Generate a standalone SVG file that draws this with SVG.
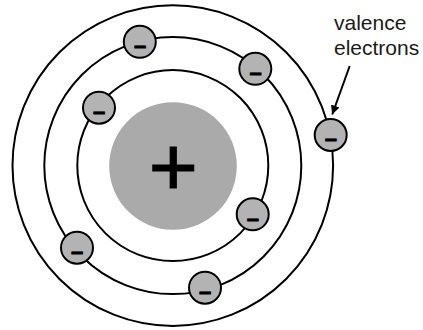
<svg xmlns="http://www.w3.org/2000/svg" width="423" height="330" viewBox="0 0 423 330">
  <style>
    .orbit { fill: none; stroke: #000; stroke-width: 2; }
    .electron circle { fill: #b3b3b3; stroke: #000; stroke-width: 2; }
    .electron text { font-family: "Liberation Sans", Arial, sans-serif; font-weight: bold; font-size: 22px; text-anchor: middle; fill: #000; stroke: #000; stroke-width: 0.8; }
    .label { font-family: "Liberation Sans", Arial, sans-serif; font-size: 21px; fill: #1a1a1a; }
  </style>
  <defs>
    <marker id="arrowhead" markerWidth="10" markerHeight="10" refX="9" refY="5" orient="auto" markerUnits="userSpaceOnUse">
      <path d="M0,0.5 L9,5 L0,9.5 Z" fill="#000"/>
    </marker>
  </defs>
  <rect width="423" height="330" fill="#fff"/>

  <!-- electron shells -->
  <g id="shells">
    <circle class="orbit" cx="172.8" cy="165.6" r="160.3"/>
    <circle class="orbit" cx="172.8" cy="165.6" r="128.5"/>
    <circle class="orbit" cx="172.8" cy="165.6" r="95.5"/>
  </g>

  <!-- nucleus -->
  <g id="nucleus">
    <circle cx="173" cy="166" r="63.8" fill="#aaaaaa"/>
    <text x="173.3" y="194.5" font-family="Liberation Sans, Arial, sans-serif" font-size="84" text-anchor="middle" fill="#000" stroke="#000" stroke-width="1.2">+</text>
  </g>

  <!-- electrons -->
  <g id="electron-1" class="electron"><circle cx="139.8" cy="41.8" r="16"/><text x="140" y="53">–</text></g>
  <g id="electron-2" class="electron"><circle cx="255.3" cy="68.8" r="16"/><text x="255.5" y="80">–</text></g>
  <g id="electron-3" class="electron"><circle cx="99" cy="107.7" r="16"/><text x="99.2" y="119">–</text></g>
  <g id="electron-4" class="electron"><circle cx="330.7" cy="135" r="16"/><text x="330.9" y="146">–</text></g>
  <g id="electron-5" class="electron"><circle cx="252.7" cy="214.3" r="16"/><text x="252.9" y="225.5">–</text></g>
  <g id="electron-6" class="electron"><circle cx="77" cy="247.7" r="16"/><text x="77.2" y="259">–</text></g>
  <g id="electron-7" class="electron"><circle cx="205" cy="287.7" r="16"/><text x="205.2" y="299">–</text></g>

  <!-- label -->
  <g id="label">
    <text class="label" x="334" y="29.5">valence</text>
    <text class="label" x="334" y="54.5">electrons</text>
  </g>

  <!-- connectors -->
  <g id="connectors">
    <line x1="349.7" y1="66" x2="332.2" y2="114.5" stroke="#000" stroke-width="2" marker-end="url(#arrowhead)"/>
  </g>
</svg>
